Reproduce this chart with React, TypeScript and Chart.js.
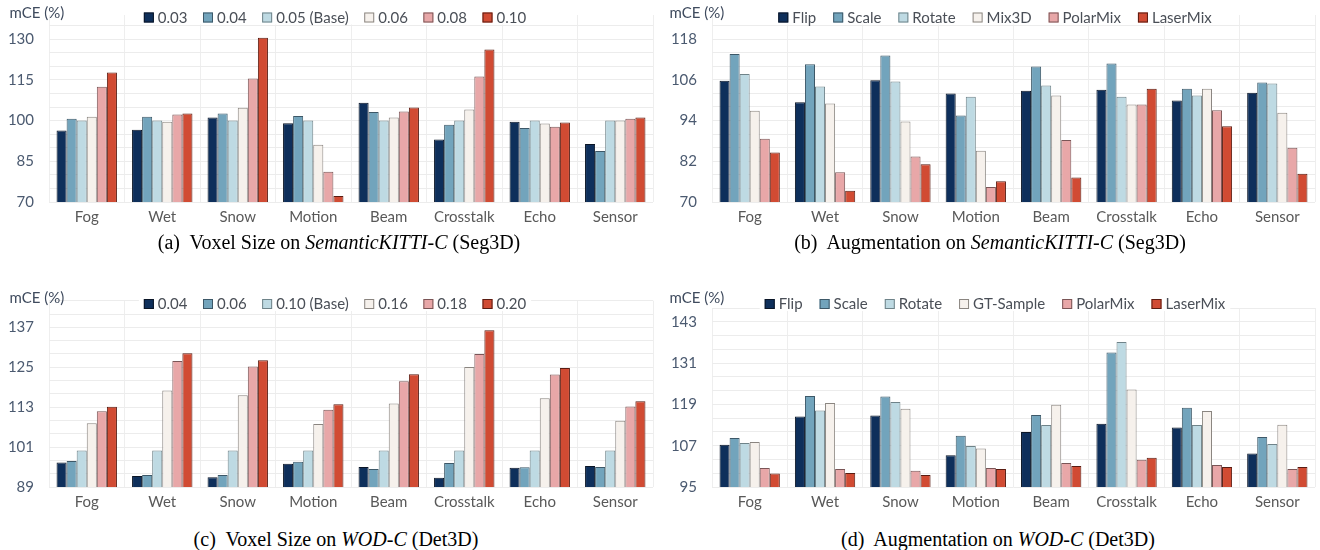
import React, { useEffect, useRef } from "react";
import { Chart, registerables } from "chart.js";

Chart.register(...registerables);

// ---------- data ----------
const categories = ["Fog", "Wet", "Snow", "Motion", "Beam", "Crosstalk", "Echo", "Sensor"];

// (a) Voxel size on SemanticKITTI-C
const aLabels = ["0.03", "0.04", "0.05 (Base)", "0.06", "0.08", "0.10"];
const aV003 = [96.3, 96.6, 101.1, 99.0, 106.6, 93.0, 99.6, 91.4];
const aV004 = [100.7, 101.4, 102.6, 101.7, 103.2, 98.5, 97.3, 88.8];
const aV005 = [100, 100, 100, 100, 100, 100, 100, 100];
const aV006 = [101.4, 99.6, 104.7, 91.1, 101.1, 104.1, 98.9, 100.0];
const aV008 = [112.5, 102.2, 115.5, 81.1, 103.3, 116.2, 97.7, 100.7];
const aV010 = [117.7, 102.6, 130.5, 72.2, 104.8, 126.2, 99.3, 101.1];
const aTicks = [70, 85, 100, 115, 130];

// (b) Augmentation on SemanticKITTI-C
const bLabels = ["Flip", "Scale", "Rotate", "Mix3D", "PolarMix", "LaserMix"];
const bFlip = [105.7, 99.4, 105.9, 102.0, 102.8, 103.1, 99.9, 102.2];
const bScale = [113.6, 110.6, 113.2, 95.5, 109.9, 110.8, 103.4, 105.2];
const bRotate = [107.7, 104.0, 105.5, 101.0, 104.3, 101.0, 101.4, 104.9];
const bMix3D = [96.9, 99.0, 93.7, 85.1, 101.4, 98.7, 103.4, 96.3];
const bPolarMix = [88.6, 78.8, 83.4, 74.4, 88.3, 98.7, 97.0, 86.0];
const bLaserMix = [84.6, 73.3, 81.1, 76.1, 77.2, 103.4, 92.3, 78.3];
const bTicks = [70, 82, 94, 106, 118];

// (c) Voxel size on WOD-C
const cLabels = ["0.04", "0.06", "0.10 (Base)", "0.16", "0.18", "0.20"];
const cV004 = [96.4, 92.3, 91.9, 96.0, 95.0, 91.8, 94.8, 95.3];
const cV006 = [96.8, 92.6, 92.6, 96.6, 94.4, 96.2, 94.9, 95.0];
const cV010 = [100, 100, 100, 100, 100, 100, 100, 100];
const cV016 = [108.2, 118.0, 116.6, 107.9, 114.1, 125.1, 115.7, 108.9];
const cV018 = [111.8, 126.9, 125.2, 112.2, 120.8, 129.0, 122.8, 113.2];
const cV020 = [113.1, 129.2, 127.1, 113.9, 122.9, 136.1, 124.8, 114.8];
const cTicks = [89, 101, 113, 125, 137];

// (d) Augmentation on WOD-C
const dLabels = ["Flip", "Scale", "Rotate", "GT-Sample", "PolarMix", "LaserMix"];
const dFlip = [107.3, 115.5, 115.8, 104.2, 111.0, 113.4, 112.3, 104.7];
const dScale = [109.2, 121.4, 121.3, 109.9, 115.9, 134.1, 118.0, 109.5];
const dRotate = [107.8, 117.2, 119.7, 106.9, 113.0, 137.1, 113.0, 107.5];
const dGTSample = [108.1, 119.4, 117.7, 106.2, 118.9, 123.3, 117.1, 113.1];
const dPolarMix = [100.5, 100.2, 99.7, 100.5, 102.0, 102.9, 101.4, 100.2];
const dLaserMix = [98.9, 99.1, 98.5, 100.2, 101.1, 103.5, 100.8, 100.8];
const dTicks = [95, 107, 119, 131, 143];

const fills = ["#0e2f5b", "#72a4bc", "#bedae3", "#f6f1ec", "#e8a7a8", "#d14b33"];
const borders = ["#0a1526", "#3d5868", "#6f8389", "#8a8580", "#7a5556", "#5a1c12"];

const FONT = "Lato, 'Noto Sans', sans-serif";

// ---------- overlay plugin: y-title + legend with white background ----------
const overlayPlugin = {
  id: "overlay",
  afterDraw(chart: any, _args: any, opts: any) {
    const ctx = chart.ctx as CanvasRenderingContext2D;
    ctx.save();
    ctx.font = `15px ${FONT}`;
    ctx.textBaseline = "middle";
    ctx.textAlign = "left";
    ctx.fillStyle = "#3f4b5e";
    ctx.fillText("mCE (%)", opts.titleX, opts.titleY);

    const ds = chart.data.datasets;
    const box = 10;
    const gap1 = 4;
    const gap2 = opts.itemGap;
    const widths = ds.map((d: any) => ctx.measureText(d.label).width);
    const total =
      widths.reduce((s: number, w: number) => s + box + gap1 + w, 0) + gap2 * (ds.length - 1);
    let x = opts.legendCX - total / 2;
    const y = opts.legendY;
    ctx.fillStyle = "#ffffff";
    ctx.fillRect(x - 5, y - 7, total + 10, 14);
    ds.forEach((d: any, i: number) => {
      ctx.fillStyle = d.backgroundColor;
      ctx.fillRect(x, y - 5, box, box);
      ctx.strokeStyle = d.borderColor;
      ctx.lineWidth = 1;
      ctx.strokeRect(x + 0.5, y - 4.5, box - 1, box - 1);
      ctx.fillStyle = "#4a4f57";
      ctx.fillText(d.label, x + box + gap1, y + 0.5);
      x += box + gap1 + widths[i] + gap2;
    });
    ctx.restore();
  },
};

type PanelProps = {
  left: number;
  top: number;
  labels: string[];
  series: number[][];
  min: number;
  max: number;
  minorStep: number;
  majorTicks: number[];
  padTop: number;
  padRight: number;
  yWidth: number;
  legendY: number;
  itemGap: number;
};

function Panel(p: PanelProps) {
  const ref = useRef<HTMLCanvasElement>(null);
  useEffect(() => {
    if (!ref.current) return;
    const minor: number[] = [];
    for (let v = p.min; v <= p.max + 1e-9; v += p.minorStep) minor.push(Math.round(v * 100) / 100);
    const chart = new Chart(ref.current, {
      type: "bar",
      data: {
        labels: categories,
        datasets: p.series.map((s, i) => ({
          label: p.labels[i],
          data: s,
          backgroundColor: fills[i],
          borderColor: borders[i],
          borderWidth: 1,
          categoryPercentage: 0.8,
          barPercentage: 1.0,
        })),
      },
      options: {
        animation: false,
        responsive: false,
        maintainAspectRatio: false,
        devicePixelRatio: 1,
        layout: { padding: { top: p.padTop, right: p.padRight, left: 0, bottom: 0 } },
        plugins: {
          legend: { display: false },
          tooltip: { enabled: false },
          overlay: { titleX: 9.5, titleY: 13, legendCX: 335, legendY: p.legendY, itemGap: p.itemGap },
        } as any,
        scales: {
          x: {
            grid: { display: true, color: "#eeeeee", drawTicks: false, offset: true },
            border: { display: false },
            ticks: { color: "#595959", font: { family: FONT, size: 15 }, padding: 6 },
            afterFit: (scale: any) => {
              scale.height = 30;
              scale.paddingLeft = 0;
              scale.paddingRight = 0;
            },
          },
          y: {
            min: p.min,
            max: p.max,
            grid: {
              color: (c: any) => {
                const v = c.tick ? c.tick.value : 0;
                return v > p.max - 0.5 && !minor.includes(v) ? "rgba(0,0,0,0)" : "#ececec";
              },
              drawTicks: false,
            },
            border: { display: false },
            afterBuildTicks: (scale: any) => {
              scale.ticks = minor.map((v) => ({ value: v }));
            },
            ticks: {
              color: "#4b5a70",
              font: { family: FONT, size: 15 },
              padding: 15,
              autoSkip: false,
              callback: (v: any) => (p.majorTicks.includes(Number(v)) ? String(v) : ""),
            },
            afterFit: (scale: any) => {
              scale.width = p.yWidth;
              scale.paddingTop = 0;
              scale.paddingBottom = 0;
            },
          },
        },
      },
      plugins: [overlayPlugin],
    });
    return () => chart.destroy();
  }, []);
  return (
    <canvas
      ref={ref}
      width={660}
      height={232}
      style={{ position: "absolute", left: p.left, top: p.top, width: 660, height: 232 }}
    />
  );
}

const captionStyle = (cx: number, cy: number): React.CSSProperties => ({
  position: "absolute",
  left: cx - 320,
  top: cy - 12,
  width: 640,
  textAlign: "center",
  fontFamily: "'Liberation Serif', 'Times New Roman', serif",
  fontSize: 20,
  lineHeight: "24px",
  color: "#000",
  whiteSpace: "pre",
});

export default function App() {
  return (
    <div style={{ position: "absolute", left: 0, top: 0, width: 1320, height: 550, background: "#fff", overflow: "hidden" }}>
      <Panel
        left={0}
        top={0}
        labels={aLabels}
        series={[aV003, aV004, aV005, aV006, aV008, aV010]}
        min={70}
        max={138.9}
        minorStep={5}
        majorTicks={aTicks}
        padTop={15}
        padRight={7}
        yWidth={49}
        legendY={17.5}
        itemGap={15.5}
      />
      <Panel
        left={660}
        top={0}
        labels={bLabels}
        series={[bFlip, bScale, bRotate, bMix3D, bPolarMix, bLaserMix]}
        min={70}
        max={125.1}
        minorStep={4}
        majorTicks={bTicks}
        padTop={15}
        padRight={5}
        yWidth={52}
        legendY={17.5}
        itemGap={17}
      />
      <Panel
        left={0}
        top={285}
        labels={cLabels}
        series={[cV004, cV006, cV010, cV016, cV018, cV020]}
        min={89}
        max={145}
        minorStep={4}
        majorTicks={cTicks}
        padTop={15.7}
        padRight={7}
        yWidth={49}
        legendY={19}
        itemGap={15.5}
      />
      <Panel
        left={660}
        top={285}
        labels={dLabels}
        series={[dFlip, dScale, dRotate, dGTSample, dPolarMix, dLaserMix]}
        min={95}
        max={147}
        minorStep={4}
        majorTicks={dTicks}
        padTop={23}
        padRight={5}
        yWidth={52}
        legendY={19}
        itemGap={17}
      />
      <div style={captionStyle(339, 242)}>
        {"(a)  Voxel Size on "}<i>SemanticKITTI-C</i>{" (Seg3D)"}
      </div>
      <div style={captionStyle(990, 242)}>
        {"(b)  Augmentation on "}<i>SemanticKITTI-C</i>{" (Seg3D)"}
      </div>
      <div style={captionStyle(336, 539)}>
        {"(c)  Voxel Size on "}<i>WOD-C</i>{" (Det3D)"}
      </div>
      <div style={captionStyle(998, 539)}>
        {"(d)  Augmentation on "}<i>WOD-C</i>{" (Det3D)"}
      </div>
    </div>
  );
}
